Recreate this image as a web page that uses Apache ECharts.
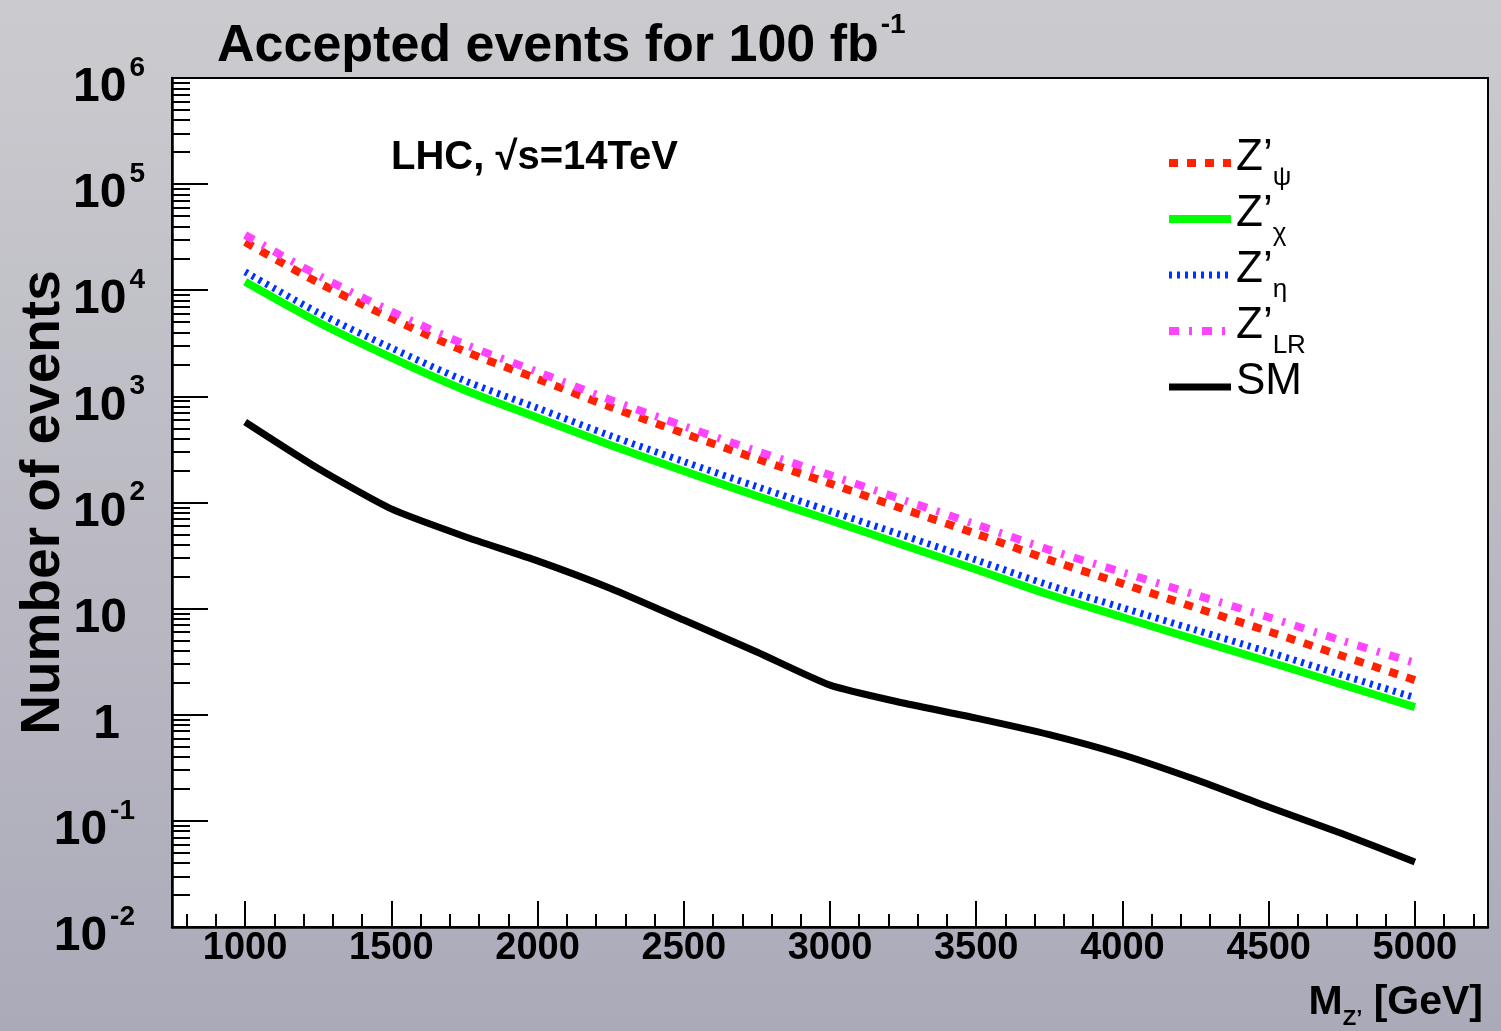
<!DOCTYPE html>
<html>
<head>
<meta charset="utf-8">
<title>Accepted events for 100 fb-1</title>
<script src="https://cdn.jsdelivr.net/npm/echarts@6/dist/echarts.min.js"></script>
<style>
  html, body { margin: 0; padding: 0; }
  #chart { width: 1501px; height: 1031px; }
</style>
</head>
<body>
<div id="chart"></div>
<script>
// masses in GeV
var masses = [1000, 1250, 1500, 1750, 2000, 2250, 2500, 2750, 3000, 3250, 3500, 3750, 4000, 4250, 4500, 4750, 5000];
// accepted events per model
var zPsi = [28500, 11800, 5450, 2670, 1460, 794, 449, 258, 151, 87, 50.7, 28.8, 17.2, 10.2, 6.1, 3.6, 2.12];
var zChi = [12000, 5000, 2320, 1150, 630, 347, 198, 115, 68.1, 39.8, 23.4, 13.5, 8.3, 5.1, 3.16, 1.93, 1.18];
var zEta = [14900, 6150, 2860, 1410, 775, 425, 243, 141, 83, 49, 28.7, 16.6, 10.2, 6.3, 3.9, 2.37, 1.45];
var zLR = [33200, 13800, 6320, 3100, 1700, 925, 525, 305, 181, 106, 62, 35.8, 22, 13.5, 8.3, 5.0, 3.08];
var smBkg = [574, 209, 87, 47.9, 28.2, 15.5, 7.8, 3.9, 1.9, 1.29, 0.93, 0.65, 0.42, 0.245, 0.135, 0.076, 0.041];

// axis ticks
var yDecades = [0.01, 0.1, 1, 10, 100, 1000, 10000, 100000, 1000000];
var xMajor = [1000, 1500, 2000, 2500, 3000, 3500, 4000, 4500, 5000];
var xMinor = [800, 900, 1100, 1200, 1300, 1400, 1600, 1700, 1800, 1900, 2100, 2200, 2300, 2400,
  2600, 2700, 2800, 2900, 3100, 3200, 3300, 3400, 3600, 3700, 3800, 3900, 4100, 4200, 4300, 4400,
  4600, 4700, 4800, 4900, 5100, 5200];
var yMinor = [];
for (var d = 0; d < yDecades.length - 1; d++) {
  for (var k = 2; k <= 9; k++) yMinor.push(+(yDecades[d] * k).toPrecision(3));
}

var legendNames = {
  psi: '{m|Z’}{s|ψ}',
  chi: '{m|Z’}{s|χ}',
  eta: '{m|Z’}{s|η}',
  lr: '{m|Z’}{s|LR}',
  sm: '{m|SM}{s| }'
};

// line looks, shared by series and legend
var looks = {
  chi: {color: '#00ff00', width: 8, type: 'solid'},
  eta: {color: '#0033ff', width: 7, type: [3, 5], cap: 'butt'},
  psi: {color: '#ff2200', width: 8, type: [9, 9], cap: 'butt'},
  lr: {color: '#ff44ff', width: 8, type: [10, 10, 3, 10], cap: 'butt'},
  sm: {color: '#000000', width: 7, type: 'solid'}
};

function pairs(vals) {
  return masses.map(function (m, i) { return [m, vals[i]]; });
}

function lineSeries(name, vals, smooth) {
  return {
    name: name, type: 'line', data: pairs(vals), symbol: 'none', smooth: smooth,
    lineStyle: looks[name], itemStyle: {color: looks[name].color}
  };
}

var FONT = '"Liberation Sans", Arial, Helvetica, sans-serif';

var chart = echarts.init(document.getElementById('chart'));

chart.setOption({
  animation: false,
  backgroundColor: {
    type: 'linear', x: 0, y: 0, x2: 0, y2: 1,
    colorStops: [{offset: 0, color: '#cbcbcf'}, {offset: 1, color: '#abaab9'}]
  },
  title: [{
    text: '{m|Accepted events for 100 fb}{e|-1}',
    left: 217, top: 11, padding: 0,
    textStyle: {
      rich: {
        m: {fontSize: 52, lineHeight: 52, fontWeight: 'bold', fontFamily: FONT, color: '#000', padding: [10, 0, 0, 0], verticalAlign: 'top'},
        e: {fontSize: 28, lineHeight: 28, fontWeight: 'bold', fontFamily: FONT, color: '#000', padding: [0, 0, 0, 2], verticalAlign: 'top'}
      }
    }
  }, {
    text: 'LHC, √s=14TeV',
    left: 391, top: 138, padding: 0,
    textStyle: {fontSize: 40, lineHeight: 40, fontWeight: 'bold', fontFamily: FONT, color: '#000'}
  }, {
    text: '{m|M}{s|Z’}{m| [GeV]}',
    right: 18, top: 982, padding: 0,
    textStyle: {
      rich: {
        m: {fontSize: 41, lineHeight: 41, fontWeight: 'bold', fontFamily: FONT, color: '#000', verticalAlign: 'top'},
        s: {fontSize: 22, lineHeight: 22, fontWeight: 'bold', fontFamily: FONT, color: '#000', padding: [26, 0, 0, 0], verticalAlign: 'top'}
      }
    }
  }],
  legend: {
    orient: 'vertical',
    left: 1165, top: 125, padding: 0,
    itemGap: -10,
    itemWidth: 62, itemHeight: 14,
    itemStyle: {opacity: 0},
    data: ['psi', 'chi', 'eta', 'lr', 'sm'].map(function (n) {
      return {name: n, lineStyle: looks[n]};
    }),
    formatter: function (name) { return legendNames[name]; },
    textStyle: {
      padding: [0, 0, 32, 0],
      rich: {
        m: {fontSize: 44, lineHeight: 44, fontFamily: FONT, color: '#000', padding: [11, 0, 0, 0], verticalAlign: 'top'},
        s: {fontSize: 26, lineHeight: 26, fontFamily: FONT, color: '#000', padding: [40, 0, 0, 0], verticalAlign: 'top'}
      }
    }
  },
  grid: {
    left: 172, right: 13, top: 78, bottom: 104,
    outerBoundsMode: 'none', containLabel: false,
    show: true, backgroundColor: '#ffffff', borderColor: '#000', borderWidth: 2
  },
  xAxis: [{
    type: 'value', min: 750, max: 5250,
    axisLine: {lineStyle: {color: '#000', width: 2.5}},
    splitLine: {show: false},
    axisTick: {inside: true, length: 26, customValues: xMajor, lineStyle: {color: '#000', width: 2}},
    axisLabel: {
      customValues: xMajor, margin: 3,
      formatter: function (v) { return String(v); },
      fontSize: 38, lineHeight: 38, fontWeight: 'bold', fontFamily: FONT, color: '#000'
    }
  }, {
    type: 'value', min: 750, max: 5250, position: 'bottom', offset: 0,
    axisLine: {show: false},
    splitLine: {show: false},
    axisLabel: {show: false},
    axisTick: {inside: true, length: 13, customValues: xMinor, lineStyle: {color: '#000', width: 2}}
  }],
  yAxis: [{
    type: 'log', logBase: 10, min: 0.01, max: 1000000,
    axisLine: {show: true, lineStyle: {color: '#000', width: 2.5}},
    splitLine: {show: false},
    axisTick: {inside: true, length: 36, customValues: yDecades, lineStyle: {color: '#000', width: 2}},
    axisLabel: {
      customValues: yDecades, margin: 27,
      formatter: function (v) {
        var p = Math.round(Math.log10(v));
        if (p === 0) return '{o|1}';
        if (p === 1) return '{t|10}';
        return '{b|10}{' + (p < 0 ? 'n' : 'e') + '|' + p + '}';
      },
      rich: {
        b: {fontSize: 48, lineHeight: 48, fontWeight: 'bold', fontFamily: FONT, color: '#000', padding: [10, 0, 10, 0], verticalAlign: 'top'},
        t: {fontSize: 48, lineHeight: 48, fontWeight: 'bold', fontFamily: FONT, color: '#000', padding: [10, 18, 10, 0], verticalAlign: 'top'},
        o: {fontSize: 48, lineHeight: 48, fontWeight: 'bold', fontFamily: FONT, color: '#000', padding: [10, 25, 10, 0], verticalAlign: 'top'},
        e: {fontSize: 28, lineHeight: 28, fontWeight: 'bold', fontFamily: FONT, color: '#000', padding: [0, 0, 0, 3], verticalAlign: 'top'},
        n: {fontSize: 28, lineHeight: 28, fontWeight: 'bold', fontFamily: FONT, color: '#000', padding: [0, 10, 0, 3], verticalAlign: 'top'}
      }
    },
    name: 'Number of events',
    nameLocation: 'middle',
    nameGap: 101,
    nameMoveOverlap: false,
    nameTextStyle: {fontSize: 55, fontWeight: 'bold', fontFamily: FONT, color: '#000'}
  }, {
    type: 'log', logBase: 10, min: 0.01, max: 1000000, position: 'left', offset: 0,
    axisLine: {show: false},
    splitLine: {show: false},
    axisLabel: {show: false},
    axisTick: {inside: true, length: 18, customValues: yMinor, lineStyle: {color: '#000', width: 2}}
  }],
  series: [
    lineSeries('chi', zChi, 0.3),
    lineSeries('eta', zEta, 0.3),
    lineSeries('psi', zPsi, 0.3),
    lineSeries('lr', zLR, 0.3),
    lineSeries('sm', smBkg, 0.2)
  ]
});
</script>
</body>
</html>
